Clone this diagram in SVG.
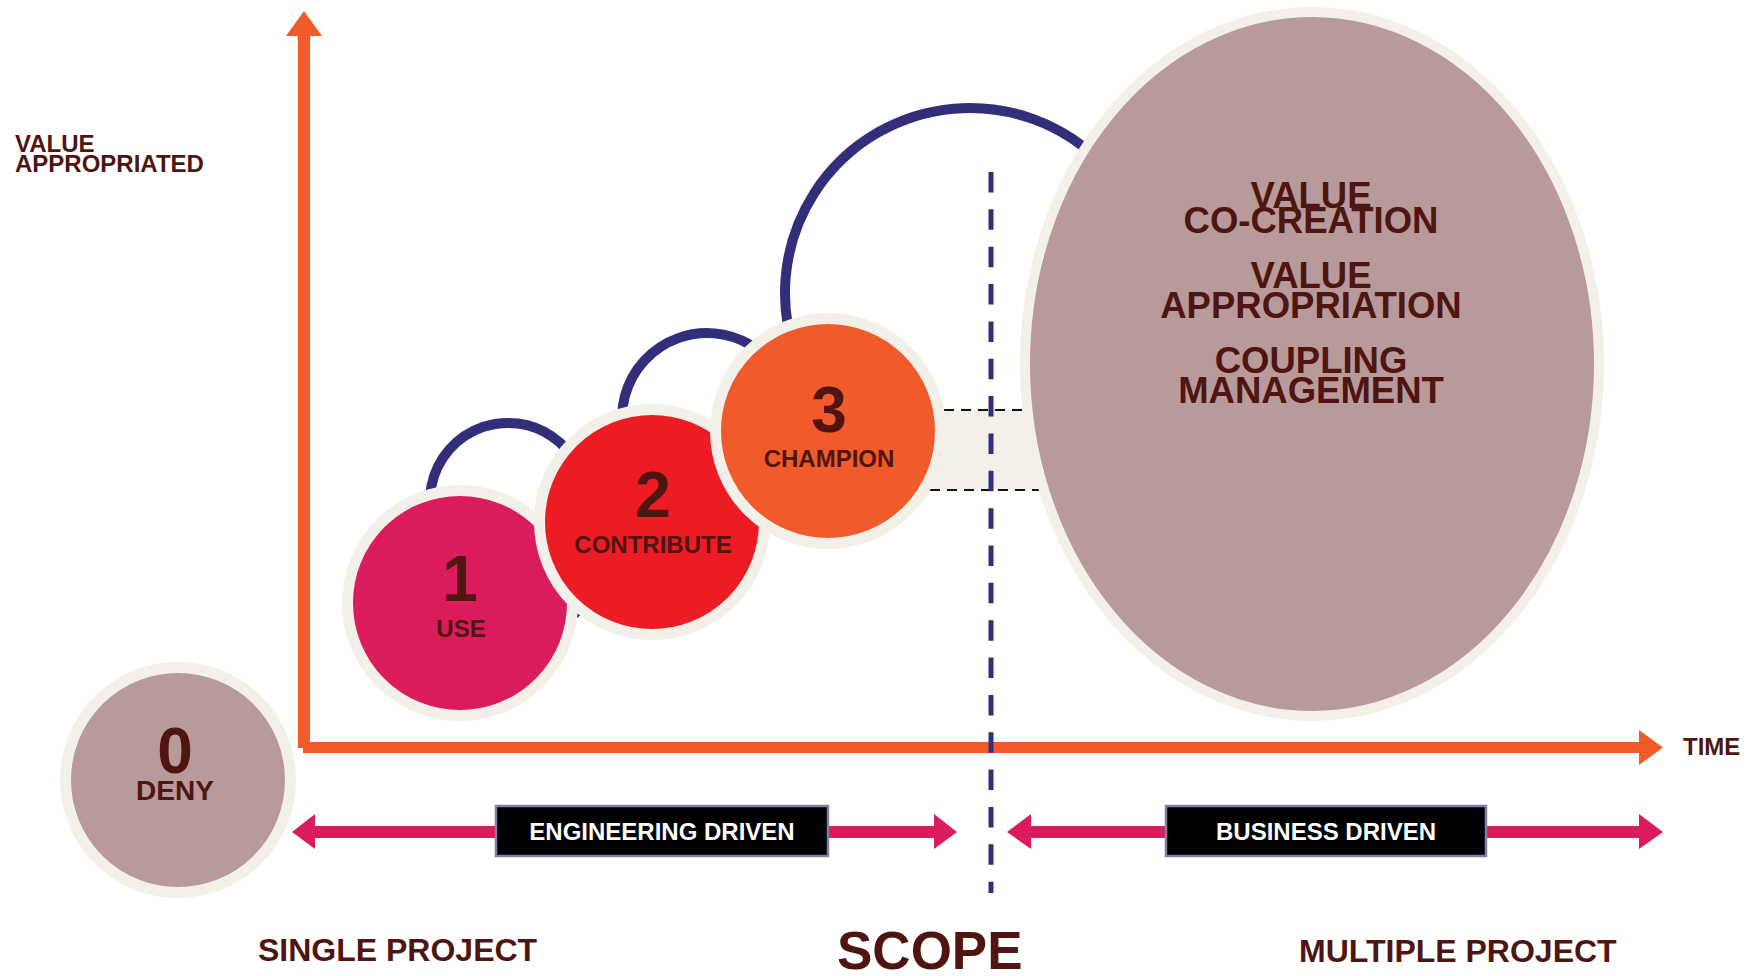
<svg xmlns="http://www.w3.org/2000/svg" width="1754" height="976" viewBox="0 0 1754 976">
<style>
text{font-family:"Liberation Sans",Arial,sans-serif;font-weight:bold;fill:#4e1511}
.mid{text-anchor:middle}
.num{font-size:64px}
.lbl{font-size:24px}
.big{font-size:36.5px}
.bot{font-size:32px}
.wt{fill:#ffffff;font-size:24px}
.stage{stroke:#f3f0ea;stroke-width:11}
.arc{fill:none;stroke:#332e7a;stroke-width:10}
.axis{fill:#f15a29}
.pink{fill:#da1c5c}
.box{fill:#000000;stroke:#7f7fae;stroke-width:2.5}
.bdash{stroke:#111111;stroke-width:2;stroke-dasharray:10 7;fill:none}
</style>
<rect width="1754" height="976" fill="#ffffff"/>

<g id="connectors">
  <path class="arc" d="M432.7 521.2 A78 78 0 1 1 575.5 540"/>
  <path class="arc" d="M623.3 432.8 A85 85 0 1 1 786.9 447.1"/>
  <path class="arc" d="M796.2 356.3 A185 185 0 1 1 1152.2 325.1"/>
  <polygon points="577,611 581,615 577,618" fill="#332e7a"/>
</g>

<g id="band">
  <rect x="900" y="410" width="200" height="80" fill="#f3f0ea"/>
  <line class="bdash" x1="944" y1="410" x2="1040" y2="410"/>
  <line class="bdash" x1="930" y1="490" x2="1050" y2="490"/>
</g>

<g id="stage1">
  <circle class="stage" cx="460" cy="603" r="112.5" fill="#da1c5c"/>
  <text class="num mid" x="460" y="601">1</text>
  <text class="lbl mid" x="461" y="637">USE</text>
</g>
<g id="stage2">
  <circle class="stage" cx="652" cy="522" r="112.5" fill="#ed1c24"/>
  <text class="num mid" x="653" y="517">2</text>
  <text class="lbl mid" x="653" y="553">CONTRIBUTE</text>
</g>
<g id="stage3">
  <circle class="stage" cx="828" cy="431" r="112.5" fill="#f15a2b"/>
  <text class="num mid" x="829" y="432">3</text>
  <text class="lbl mid" x="829" y="467">CHAMPION</text>
</g>
<g id="stage4">
  <ellipse cx="1312" cy="364" rx="287" ry="352" fill="#b99a9b" stroke="#f3f0ea" stroke-width="10"/>
  <text class="big mid" x="1311" y="208">VALUE</text>
  <text class="big mid" x="1311" y="233">CO-CREATION</text>
  <text class="big mid" x="1311" y="288">VALUE</text>
  <text class="big mid" x="1311" y="318">APPROPRIATION</text>
  <text class="big mid" x="1311" y="373">COUPLING</text>
  <text class="big mid" x="1311" y="403">MANAGEMENT</text>
</g>
<g id="stage0">
  <circle class="stage" cx="178" cy="780" r="112.5" fill="#b99a9b"/>
  <text class="num mid" x="175" y="773">0</text>
  <text class="mid" x="175" y="800" font-size="28">DENY</text>
</g>

<g id="axes">
  <path class="axis" d="M298 36 H310 V742 H1640 V753 H303 V748 H298 Z"/>
  <polygon class="axis" points="286,36 304,11 322,36"/>
  <polygon class="axis" points="1639,730 1663,747.5 1639,765"/>
  <text class="lbl" x="15" y="152">VALUE</text>
  <text class="lbl" x="15" y="172">APPROPRIATED</text>
  <text class="lbl" x="1683" y="755">TIME</text>
</g>

<g id="scope-line">
  <line x1="991" y1="172" x2="991" y2="893" stroke="#332e7a" stroke-width="5" stroke-dasharray="20.5 16.85"/>
</g>

<g id="engineering">
  <rect class="pink" x="314" y="826" width="184" height="12"/>
  <polygon class="pink" points="315,814 292,832 315,849"/>
  <rect class="pink" x="826" y="826" width="109" height="12"/>
  <polygon class="pink" points="934,814 957,832 934,849"/>
  <rect class="box" x="496" y="806" width="332" height="50"/>
  <text class="wt mid" x="662" y="840">ENGINEERING DRIVEN</text>
</g>
<g id="business">
  <rect class="pink" x="1030" y="826" width="138" height="12"/>
  <polygon class="pink" points="1031,814 1007,832 1031,849"/>
  <rect class="pink" x="1484" y="826" width="156" height="12"/>
  <polygon class="pink" points="1639,814 1663,832 1639,849"/>
  <rect class="box" x="1166" y="806" width="320" height="50"/>
  <text class="wt mid" x="1326" y="840">BUSINESS DRIVEN</text>
</g>

<g id="scope-labels">
  <text class="bot" x="258" y="961">SINGLE PROJECT</text>
  <text x="837" y="969" font-size="53">SCOPE</text>
  <text class="bot" x="1299" y="962">MULTIPLE PROJECT</text>
</g>
</svg>
